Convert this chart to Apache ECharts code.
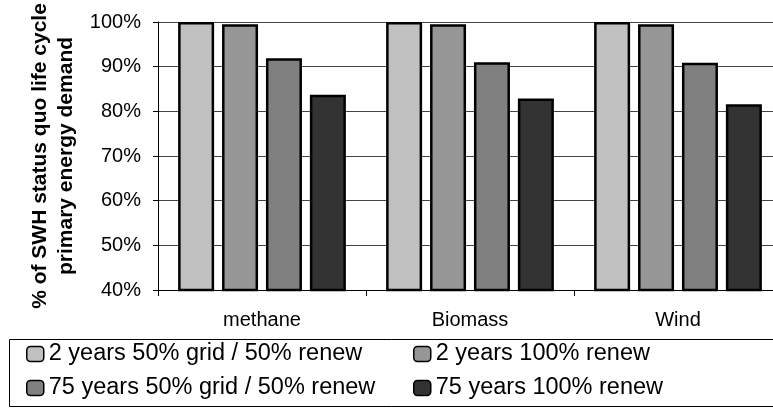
<!DOCTYPE html>
<html>
<head>
<meta charset="utf-8">
<script src="https://cdn.jsdelivr.net/npm/echarts@6/dist/echarts.min.js"></script>
<style>
html,body{margin:0;padding:0;background:#fff;}
#chart{width:773px;height:409px;}
</style>
</head>
<body>
<div id="chart"></div>
<script>
var categories = ['methane', 'Biomass', 'Wind'];
var seriesNames = ['2 years 50% grid / 50% renew', '2 years 100% renew', '75 years 50% grid / 50% renew', '75 years 100% renew'];
var s2y50 = [100, 100, 100];
var s2y100 = [99.5, 99.5, 99.5];
var s75y50 = [91.9, 91.0, 90.9];
var s75y100 = [83.7, 82.9, 81.6];
var yTicks = [40, 50, 60, 70, 80, 90, 100];
var yTitle = '% of SWH status quo life cycle\nprimary energy demand';

var colors = ['#C0C0C0', '#969696', '#808080', '#333333'];
var values = [s2y50, s2y100, s75y50, s75y100];
var font = "'Liberation Sans', Arial, sans-serif";

var chart = echarts.init(document.getElementById('chart'), null, {renderer: 'canvas'});

var series = seriesNames.map(function (n, i) {
  return {
    name: n,
    type: 'bar',
    data: values[i],
    barWidth: 36,
    barGap: '22%',
    itemStyle: {color: colors[i], borderColor: '#000', borderWidth: 2.5},
    emphasis: {disabled: true}
  };
});

var legendPos = [[26, 340], [413, 340], [26, 374], [413, 374]];
var legends = seriesNames.map(function (n, i) {
  return {
    data: [n],
    left: legendPos[i][0],
    top: legendPos[i][1],
    padding: 0,
    itemWidth: 17,
    itemHeight: 15,
    itemStyle: {borderColor: '#000', borderWidth: 1.5},
    textStyle: {fontFamily: font, fontSize: 23.5, color: '#000', lineHeight: 28},
    selectedMode: false
  };
});

chart.setOption({
  animation: false,
  backgroundColor: '#fff',
  color: colors,
  grid: {left: 158, top: 22, right: -9, bottom: 119, outerBoundsMode: 'none', containLabel: false},
  legend: legends,
  graphic: [{
    type: 'rect',
    shape: {x: 9.5, y: 339.5, width: 800, height: 67},
    style: {fill: 'none', stroke: '#000', lineWidth: 1},
    silent: true
  }],
  xAxis: {
    type: 'category',
    data: categories,
    axisLine: {lineStyle: {color: '#000', width: 1}},
    axisTick: {show: true, length: 6, lineStyle: {color: '#000'}},
    axisLabel: {fontFamily: font, fontSize: 20, color: '#000', margin: 20}
  },
  yAxis: {
    type: 'value',
    min: yTicks[0],
    max: yTicks[yTicks.length - 1],
    interval: 10,
    name: yTitle,
    nameLocation: 'middle',
    nameRotate: 90,
    nameGap: 77,
    nameTextStyle: {fontFamily: font, fontSize: 21, fontWeight: 'bold', color: '#000', lineHeight: 26, align: 'center'},
    axisLine: {show: true, lineStyle: {color: '#000', width: 1}},
    axisTick: {show: true, length: 5, lineStyle: {color: '#000'}},
    axisLabel: {fontFamily: font, fontSize: 20, color: '#000', margin: 17, formatter: '{value}%'},
    splitLine: {show: true, lineStyle: {color: '#444', width: 1}}
  },
  series: series
});
</script>
</body>
</html>
